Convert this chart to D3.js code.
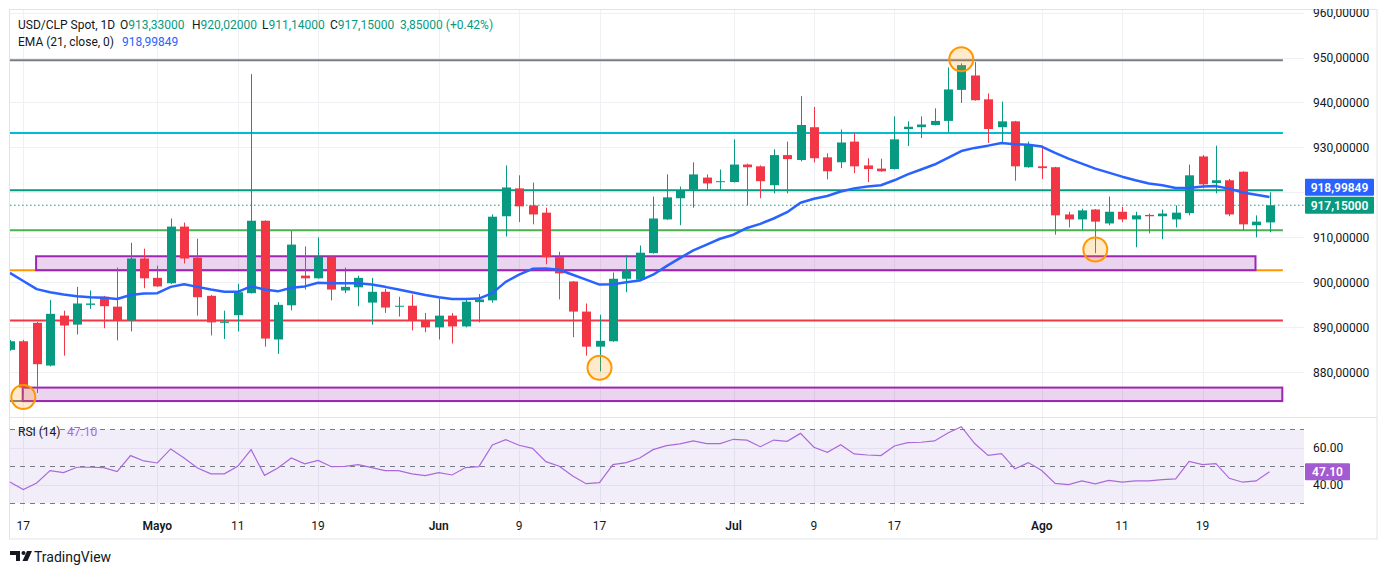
<!doctype html>
<html>
<head>
<meta charset="utf-8">
<script src="https://cdnjs.cloudflare.com/ajax/libs/d3/7.8.5/d3.min.js"></script>
<style>
body { margin: 0; background: #fff; }
text { font-family: Roboto, "Noto Sans", sans-serif; }
</style>
</head>
<body>
<svg id="chart" width="1388" height="575"></svg>
<script>
// daily candles, first one is cut off at the left edge
var opens  = [885.0,886.9,891.0,881.5,892.6,890.6,895.0,896.8,894.6,891.5,905.3,901.0,899.8,912.4,905.5,897.0,891.0,892.7,897.6,913.7,887.3,894.9,901.5,900.9,905.7,898.2,898.9,895.5,897.9,894.6,894.8,891.6,890.0,892.6,890.2,895.6,896.0,914.7,920.9,917.1,915.5,905.6,900.2,893.5,885.7,886.9,900.8,900.6,906.5,914.0,918.7,920.6,923.3,922.3,922.3,926.2,925.8,921.6,928.3,927.2,934.5,927.8,926.7,931.3,926.0,925.3,925.2,934.1,934.5,935.0,935.9,942.8,946.0,940.7,934.5,935.8,925.6,925.8,925.6,915.1,914.0,916.2,913.1,915.7,914.0,915.0,914.7,914.0,915.4,928.0,922.1,922.7,924.6,912.7,913.33];
var highs  = [887.2,887.2,891.2,896.1,893.7,899.0,898.2,897.0,903.3,908.8,907.5,903.7,914.2,913.3,909.7,897.2,893.7,899.7,946.3,913.8,895.6,911.4,908.0,910.0,905.8,903.3,901.5,901.0,898.6,896.8,897.3,893.2,896.4,893.2,896.4,897.4,915.1,926.0,923.8,922.2,916.6,906.8,900.3,895.3,892.8,902.2,906.1,908.2,919.1,924.0,921.3,926.7,924.0,925.1,931.8,926.4,926.0,929.6,931.3,941.4,939.0,928.7,934.0,933.3,927.6,927.5,936.9,935.8,936.9,938.7,947.8,948.7,949.0,942.0,940.2,935.9,931.3,930.4,925.7,915.7,916.4,916.3,919.1,916.8,915.7,915.3,916.2,917.1,926.2,928.3,930.4,923.0,924.7,914.9,920.02];
var lows   = [884.8,875.0,875.4,881.3,883.7,888.4,894.1,889.8,887.1,889.1,898.7,899.0,899.6,904.2,892.6,888.2,887.4,889.1,897.5,885.7,884.1,893.8,898.4,900.8,896.0,897.6,894.7,890.6,893.2,892.4,889.3,888.9,887.3,886.4,890.0,891.1,895.5,910.2,913.4,912.9,904.0,896.2,887.8,883.7,880.2,886.8,897.8,900.5,906.4,913.9,912.7,916.6,920.6,920.6,922.2,917.1,918.7,919.8,919.8,926.9,926.7,922.9,925.4,924.3,922.3,924.6,925.1,930.3,932.1,934.9,933.3,939.9,940.4,931.0,931.2,922.6,925.5,923.0,910.6,912.2,911.6,906.5,912.7,913.4,907.8,910.9,909.6,912.2,914.9,920.9,919.8,914.7,911.6,910.0,911.14];
var closes = [886.9,876.6,881.8,893.0,890.4,895.3,895.3,894.7,891.5,905.3,900.9,899.1,912.4,905.3,896.7,891.1,891.3,897.8,913.7,887.5,895.0,908.4,900.9,905.7,898.4,899.0,901.0,897.9,894.4,894.8,891.6,890.0,892.6,890.2,895.7,896.2,914.6,921.1,916.9,915.1,905.6,902.0,893.5,885.7,887.0,900.8,902.6,906.6,914.2,918.9,920.5,924.0,922.0,922.5,926.2,925.6,922.5,928.3,927.4,935.0,927.6,924.7,931.1,925.8,925.2,924.7,931.8,934.6,935.1,935.9,942.9,948.3,940.5,934.1,935.8,925.8,930.6,925.4,914.9,914.0,916.0,913.5,915.7,914.0,914.9,914.7,915.3,915.5,923.8,921.8,922.7,915.1,912.9,913.5,917.15];

var ema21 = [902.1,900.3,898.5,897.8,897.3,896.9,896.7,896.6,896.3,897.2,897.5,897.6,899.0,899.6,899.0,898.4,897.9,897.9,899.1,898.4,898.0,898.8,899.1,899.9,899.8,899.8,899.8,899.5,899.0,898.4,897.8,897.2,896.7,896.3,896.3,896.4,897.6,900.1,901.7,903.0,903.1,902.8,901.7,900.6,899.5,899.6,900.0,900.4,901.7,903.6,905.4,907.1,908.4,909.7,910.6,912.1,913.0,914.2,915.6,917.7,918.6,919.2,920.2,920.9,921.3,921.6,922.7,924.0,925.1,926.2,927.7,929.2,929.9,930.4,931.0,930.7,930.6,930.2,928.8,927.5,926.4,925.3,924.4,923.5,922.7,922.0,921.6,921.0,921.0,921.3,921.4,920.8,920.0,919.5,918.99849];

var rsi14 = [41.5,37.4,41.0,47.7,46.6,49.5,49.5,49.3,47.1,55.8,52.9,51.8,59.4,54.5,49.1,45.9,45.9,50.0,59.0,45.1,49.1,54.5,51.3,53.2,49.8,50.0,50.9,49.3,47.7,47.7,45.9,45.0,46.6,45.3,49.3,49.8,61.5,64.4,61.4,59.7,52.5,50.0,44.8,40.6,41.2,50.9,52.0,54.5,59.0,61.2,62.1,63.7,62.3,62.3,64.6,64.1,60.6,64.2,63.5,67.8,60.3,57.6,61.7,56.7,56.1,55.8,61.0,62.8,63.0,63.7,68.0,71.4,62.3,55.9,56.8,48.6,52.0,47.7,40.8,40.1,42.1,40.5,42.4,41.4,42.1,42.1,42.8,43.2,52.7,50.9,51.4,43.5,41.4,42.1,47.10];

var dateTicks  = [1, 11, 17, 23, 32, 38, 44, 54, 60, 66, 77, 83, 89];
var dateLabels = ["17", "Mayo", "11", "19", "Jun", "9", "17", "Jul", "9", "17", "Ago", "11", "19"];
var monthNames = ["Mayo", "Jun", "Jul", "Ago"];
var priceTicks = [880, 890, 900, 910, 920, 930, 940, 950, 960];
var rsiGrid = [40, 60];
var rsiDashed = [70, 50, 30];

// drawn levels and zones (price values, candle index where they end/start)
var levelValues = [949.4, 933.2, 920.5, 911.6, 902.7, 891.5, 873.6];
var levelColors = ["#787b86", "#00bcd4", "#089981", "#4caf50", "#ff9800", "#f23645", "#787b86"];
var zoneStart = [2, 1], zoneEnd = [93, 95];
var zoneLow = [902.7, 873.6], zoneHigh = [905.8, 876.6];
var markIdx = [1, 44, 71, 81];
var markPrice = [874.5, 881.0, 949.6, 907.3];
var lastChange = 3.85, lastChangePct = 0.42;

var svg = d3.select("#chart");
var W = 1388;
var paneL = 10, paneR = 1304, paneT = 9, mainB = 417, rsiB = 512, frameB = 539, frameR = 1377;
var up = "#089981", down = "#f23645";

var x = d3.scaleLinear().domain([0, 94]).range([9.9, 1269.5]);
var y = d3.scaleLinear().domain([880, 950]).range([372.3, 57.5]);
var yr = d3.scaleLinear().domain([30, 70]).range([503.3, 429.3]);
var fmt = function(v) { return d3.format(".5f")(v).replace(".", ","); };

svg.append("rect").attr("width", W).attr("height", 575).attr("fill", "#fff");

var defs = svg.append("defs");
defs.append("clipPath").attr("id", "mainClip").append("rect")
  .attr("x", paneL).attr("y", paneT).attr("width", paneR - paneL).attr("height", mainB - paneT);
defs.append("clipPath").attr("id", "axisClip").append("rect")
  .attr("x", paneR).attr("y", paneT).attr("width", frameR - paneR).attr("height", mainB - paneT);

// grid
var grid = svg.append("g").attr("stroke", "#eef0f4").attr("stroke-width", 1);
grid.selectAll("line.v").data(dateTicks).enter().append("line")
  .attr("x1", d => Math.round(x(d)) + 0.5).attr("x2", d => Math.round(x(d)) + 0.5)
  .attr("y1", paneT).attr("y2", rsiB);
grid.selectAll("line.h").data(priceTicks).enter().append("line")
  .attr("x1", paneL).attr("x2", paneR)
  .attr("y1", d => Math.round(y(d)) + 0.5).attr("y2", d => Math.round(y(d)) + 0.5);

var main = svg.append("g").attr("clip-path", "url(#mainClip)");

// horizontal levels
main.selectAll("line.level").data(levelValues).enter().append("line")
  .attr("x1", paneL).attr("x2", x(95))
  .attr("y1", d => y(d)).attr("y2", d => y(d))
  .attr("stroke", (d, i) => levelColors[i]).attr("stroke-width", 2);

// zones
main.selectAll("rect.zone").data(zoneLow).enter().append("rect")
  .attr("x", (d, i) => x(zoneStart[i]) - 0.6)
  .attr("width", (d, i) => x(zoneEnd[i]) - x(zoneStart[i]))
  .attr("y", (d, i) => y(zoneHigh[i]))
  .attr("height", (d, i) => y(zoneLow[i]) - y(zoneHigh[i]))
  .attr("fill", "rgba(156,39,176,0.2)").attr("stroke", "#9c27b0").attr("stroke-width", 2);

// close price dotted line
var last = closes.length - 1;
main.append("line").attr("x1", paneL).attr("x2", paneR)
  .attr("y1", y(closes[last])).attr("y2", y(closes[last]))
  .attr("stroke", up).attr("stroke-width", 1).attr("stroke-dasharray", "1.5,2.5");

// candles
var candles = main.selectAll("g.candle").data(closes).enter().append("g");
candles.append("line")
  .attr("x1", (d, i) => Math.round(x(i)) + 0.5).attr("x2", (d, i) => Math.round(x(i)) + 0.5)
  .attr("y1", (d, i) => y(highs[i])).attr("y2", (d, i) => y(lows[i]))
  .attr("stroke", (d, i) => d >= opens[i] ? up : down).attr("stroke-width", 1);
candles.append("rect")
  .attr("x", (d, i) => Math.round(x(i)) - 4)
  .attr("width", 9)
  .attr("y", (d, i) => y(Math.max(d, opens[i])))
  .attr("height", (d, i) => Math.max(1, Math.abs(y(d) - y(opens[i]))))
  .attr("fill", (d, i) => d >= opens[i] ? up : down);

// EMA
main.append("path").datum(ema21)
  .attr("d", d3.line().x((d, i) => x(i)).y(d => y(d)))
  .attr("fill", "none").attr("stroke", "#2962ff").attr("stroke-width", 2.5)
  .attr("stroke-linejoin", "round");

// marked turning points
main.selectAll("circle.mark").data(markPrice).enter().append("circle")
  .attr("cx", (d, i) => x(markIdx[i])).attr("cy", d => y(d)).attr("r", 12)
  .attr("fill", "rgba(255,152,0,0.2)").attr("stroke", "#ff9800").attr("stroke-width", 2);

// RSI pane
svg.append("rect").attr("x", paneL).attr("width", paneR - paneL)
  .attr("y", yr(70)).attr("height", yr(30) - yr(70))
  .attr("fill", "#7e57c2").attr("fill-opacity", 0.1);
svg.selectAll("line.rgrid").data(rsiGrid).enter().append("line")
  .attr("x1", paneL).attr("x2", paneR)
  .attr("y1", d => Math.round(yr(d)) + 0.5).attr("y2", d => Math.round(yr(d)) + 0.5)
  .attr("stroke", "#e4def0");
svg.selectAll("line.rdash").data(rsiDashed).enter().append("line")
  .attr("x1", paneL).attr("x2", paneR)
  .attr("y1", d => Math.round(yr(d)) + 0.5).attr("y2", d => Math.round(yr(d)) + 0.5)
  .attr("stroke", "#787b86").attr("stroke-dasharray", "5,5");
svg.append("path").datum(rsi14)
  .attr("d", d3.line().x((d, i) => x(i)).y(d => yr(d)))
  .attr("fill", "none").attr("stroke", "#ab68dc").attr("stroke-width", 1.2);

// frame
svg.append("rect").attr("x", 9.5).attr("y", 9.5).attr("width", frameR - 9.5).attr("height", frameB - 9.5)
  .attr("fill", "none").attr("stroke", "#e0e3eb");
svg.append("line").attr("x1", 9).attr("x2", frameR).attr("y1", mainB + 0.5).attr("y2", mainB + 0.5)
  .attr("stroke", "#e0e3eb");

// value tags on the price axis
var closeY = y(closes[last]);
var tags = [
  { y: closeY, fill: up, text: fmt(closes[last]) },
  { y: closeY - 18, fill: "#2962ff", text: fmt(ema21[ema21.length - 1]) }
];

// price axis (ticks hidden behind the tags are left out, as on the original)
var pAxis = svg.append("g").attr("clip-path", "url(#axisClip)");
pAxis.selectAll("text").data(priceTicks.filter(d => tags.every(t => Math.abs(y(d) - t.y) > 14)))
  .enter().append("text")
  .attr("x", 1313).attr("y", d => y(d)).attr("dy", "0.35em")
  .attr("font-size", 12).attr("fill", "#131722").text(d => fmt(d));

var tagG = svg.selectAll("g.tag").data(tags).enter().append("g");
tagG.append("rect").attr("x", 1305).attr("y", d => d.y - 8.5).attr("width", 69).attr("height", 17)
  .attr("rx", 1).attr("fill", d => d.fill);
tagG.append("text").attr("x", 1339.5).attr("y", d => d.y).attr("dy", "0.36em")
  .attr("text-anchor", "middle").attr("font-size", 12).attr("font-weight", 600)
  .attr("fill", "#fff").text(d => d.text);

// RSI axis
svg.selectAll("text.rtick").data(rsiGrid).enter().append("text")
  .attr("x", 1313).attr("y", d => yr(d)).attr("dy", "0.35em")
  .attr("font-size", 12).attr("fill", "#131722").text(d => d3.format(".2f")(d));
var rLast = rsi14[rsi14.length - 1];
svg.append("rect").attr("x", 1305).attr("y", yr(rLast) - 8.5).attr("width", 45).attr("height", 17)
  .attr("rx", 1).attr("fill", "#a35bd1");
svg.append("text").attr("x", 1327.5).attr("y", yr(rLast)).attr("dy", "0.36em")
  .attr("text-anchor", "middle").attr("font-size", 12).attr("font-weight", 600)
  .attr("fill", "#fff").text(d3.format(".2f")(rLast));

// time axis
svg.selectAll("text.date").data(dateTicks).enter().append("text")
  .attr("x", d => x(d)).attr("y", 526).attr("dy", "0.35em")
  .attr("text-anchor", "middle").attr("font-size", 12)
  .attr("font-weight", (d, i) => monthNames.indexOf(dateLabels[i]) > -1 ? 600 : 400)
  .attr("fill", "#131722").text((d, i) => dateLabels[i]);

// legend
var leg = svg.append("g").attr("font-size", 12);
var row1 = leg.append("text").attr("x", 18).attr("y", 25).attr("dy", "0.35em").attr("fill", "#131722");
row1.append("tspan").text("USD/CLP Spot, 1D");
var ohlc = [["O", opens[last]], ["H", highs[last]], ["L", lows[last]], ["C", closes[last]]];
var ohlcX = [120, 192, 262, 330];
ohlc.forEach(function(p, i) {
  row1.append("tspan").attr("x", ohlcX[i]).attr("fill", "#131722").text(p[0]);
  row1.append("tspan").attr("fill", up).text(fmt(p[1]));
});
row1.append("tspan").attr("x", 400).attr("fill", up)
  .text(fmt(lastChange) + " (+" + d3.format(".2f")(lastChangePct) + "%)");
var row2 = leg.append("text").attr("x", 18).attr("y", 42).attr("dy", "0.35em").attr("fill", "#131722");
row2.append("tspan").text("EMA (21, close, 0)");
row2.append("tspan").attr("x", 122).attr("fill", "#2962ff").text(fmt(ema21[ema21.length - 1]));
var row3 = leg.append("text").attr("x", 18).attr("y", 432).attr("dy", "0.35em").attr("fill", "#131722");
row3.append("tspan").text("RSI (14)");
row3.append("tspan").attr("x", 67).attr("fill", "#ab68dc").text(d3.format(".2f")(rLast));

// TradingView mark
var logo = svg.append("g").attr("fill", "#131722");
logo.append("path").attr("d", "M10 551h10v10h-4v-6h-6z");
logo.append("circle").attr("cx", 23.5).attr("cy", 553).attr("r", 2);
logo.append("path").attr("d", "M27 551h5l-4.5 10h-5z");
svg.append("text").attr("x", 34).attr("y", 557).attr("dy", "0.35em")
  .attr("font-size", 14).attr("fill", "#131722").text("TradingView");
</script>
</body>
</html>
